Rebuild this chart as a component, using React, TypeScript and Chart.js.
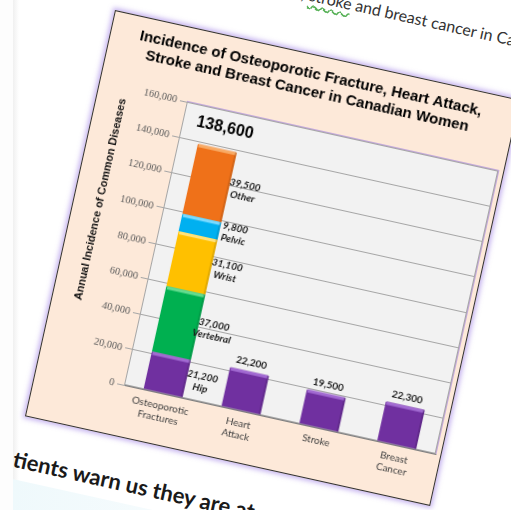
import React, { useEffect, useRef } from 'react';
import { Chart, registerables } from 'chart.js';

Chart.register(...registerables);

// ---------- data ----------
const categories: (string | string[])[] = [['Osteoporotic', 'Fractures'], ['Heart', 'Attack'], ['Stroke'], ['Breast', 'Cancer']];
const fractureTypes = ['Hip', 'Vertebral', 'Wrist', 'Pelvic', 'Other'];
const fractureValues = [21200, 37000, 31100, 9800, 39500];
const diseaseValues: (number | null)[] = [null, 22200, 19500, 22300];
const yTickValues = [0, 20000, 40000, 60000, 80000, 100000, 120000, 140000, 160000];
const titleLines = ['Incidence of Osteoporotic Fracture, Heart Attack,', 'Stroke and Breast Cancer in Canadian Women'];
const yTitle = 'Annual Incidence of Common Diseases';

// ---------- styles ----------
const fractureColors = ['#7030a0', '#00b050', '#ffc000', '#00b0f0', '#ef7119'];
const fractureHighlights = ['#a26ad2', '#63dc8e', '#ffe27a', '#7adaff', '#f8ab66'];
const diseaseColor = '#7030a0';
const diseaseHighlight = '#a26ad2';

const fmt = (v: number) => v.toLocaleString('en-US');

const decorPlugin = {
  id: 'decor',
  beforeDraw(chart: any) {
    const { ctx, chartArea: a } = chart;
    ctx.save();
    ctx.fillStyle = '#f2f2f2';
    ctx.fillRect(a.left, a.top, a.right - a.left, a.bottom - a.top);
    ctx.restore();
  },
  beforeDatasetsDraw(chart: any) {
    const { ctx, chartArea: a } = chart;
    ctx.save();
    ctx.strokeStyle = '#a6a6a6';
    ctx.lineWidth = 1;
    ctx.strokeRect(a.left + 0.5, a.top + 0.5, a.right - a.left - 1, a.bottom - a.top - 1);
    ctx.strokeStyle = 'rgba(170,140,220,0.7)';
    ctx.beginPath();
    ctx.moveTo(a.left, a.top - 0.5);
    ctx.lineTo(a.right + 0.5, a.top - 0.5);
    ctx.lineTo(a.right + 0.5, a.bottom);
    ctx.stroke();
    ctx.restore();
  },
  afterDatasetsDraw(chart: any) {
    const { ctx } = chart;
    ctx.save();
    // bevel highlight on top of each bar segment
    chart.data.datasets.forEach((ds: any, di: number) => {
      const meta = chart.getDatasetMeta(di);
      meta.data.forEach((el: any, j: number) => {
        const v = ds.data[j];
        if (v == null) return;
        const p = el.getProps(['x', 'y', 'width', 'base'], true);
        ctx.fillStyle = di < fractureTypes.length ? fractureHighlights[di] : diseaseHighlight;
        ctx.fillRect(p.x - p.width / 2 + 1, p.y, p.width - 2, 3);
        ctx.fillStyle = 'rgba(0,0,0,0.12)';
        ctx.fillRect(p.x + p.width / 2 - 2, p.y, 2, p.base - p.y);
      });
    });
    ctx.textAlign = 'center';
    ctx.textBaseline = 'middle';
    ctx.fillStyle = '#1a1a1a';
    // fracture segment labels
    fractureTypes.forEach((name, i) => {
      const el = chart.getDatasetMeta(i).data[0];
      const p = el.getProps(['x', 'y', 'width', 'base'], true);
      const cx = p.x + p.width / 2 + 15;
      const cy = (p.y + p.base) / 2;
      ctx.font = 'italic bold 10px Lato';
      ctx.fillText(fmt(fractureValues[i]), cx, cy - 6);
      ctx.fillText(name, cx, cy + 6);
    });
    // other disease labels
    const dMeta = chart.getDatasetMeta(fractureTypes.length);
    dMeta.data.forEach((el: any, j: number) => {
      const v = diseaseValues[j];
      if (v == null) return;
      const p = el.getProps(['x', 'y'], true);
      ctx.font = 'bold 10px Lato';
      ctx.fillText(fmt(v), p.x, p.y - 9);
    });
    // total of fractures
    const topEl = chart.getDatasetMeta(fractureTypes.length - 1).data[0];
    const tp = topEl.getProps(['x', 'y'], true);
    const total = fractureValues.reduce((s, v) => s + v, 0);
    ctx.fillStyle = '#000';
    ctx.font = 'bold 16px "Liberation Sans"';
    ctx.fillText(fmt(total), tp.x + 3, tp.y - 21);
    // y axis title
    ctx.save();
    ctx.translate(26, 187);
    ctx.rotate(-Math.PI / 2);
    ctx.font = 'bold 11px "Liberation Sans"';
    ctx.fillStyle = '#111';
    ctx.fillText(yTitle, 0, 0);
    ctx.restore();
    ctx.restore();
  },
};

function ChartCanvas() {
  const ref = useRef<HTMLCanvasElement | null>(null);
  useEffect(() => {
    if (!ref.current) return;
    const datasets: any[] = fractureTypes.map((t, i) => ({
      label: t,
      data: categories.map((_, j) => (j === 0 ? fractureValues[i] : null)),
      backgroundColor: fractureColors[i],
      stack: 's',
    }));
    datasets.push({ label: 'Disease', data: diseaseValues, backgroundColor: diseaseColor, stack: 's' });
    const chart = new Chart(ref.current, {
      type: 'bar',
      data: { labels: categories as any, datasets },
      options: {
        animation: false,
        responsive: false,
        devicePixelRatio: 1,
        datasets: { bar: { barPercentage: 0.5, categoryPercentage: 1, borderRadius: 1 } },
        layout: { padding: { left: 0, right: 5, top: 0, bottom: 0 } },
        plugins: {
          legend: { display: false },
          tooltip: { enabled: false },
          title: {
            display: true,
            text: titleLines,
            color: '#000',
            font: { family: '"Liberation Sans"', size: 15, weight: 'bold', lineHeight: 1.2 },
            padding: { top: 10, bottom: 27 },
          },
        },
        scales: {
          x: {
            stacked: true,
            grid: { display: false, drawTicks: false },
            border: { display: true, color: '#7f7f7f' },
            ticks: { font: { family: 'Lato', size: 10, lineHeight: 1.2 }, color: '#404040', padding: 7, maxRotation: 0, autoSkip: false },
            afterFit: (s: any) => { s.height = 51; },
          },
          y: {
            stacked: true,
            min: yTickValues[0],
            max: yTickValues[yTickValues.length - 1],
            afterBuildTicks: (s: any) => { s.ticks = yTickValues.map((v) => ({ value: v })); },
            ticks: { font: { family: '"Liberation Serif"', size: 10.5 }, color: '#595959', padding: 3, callback: (v: any) => fmt(Number(v)) },
            grid: { color: '#a6a6a6', tickLength: 7 },
            border: { display: true, color: '#a6a6a6' },
            afterFit: (s: any) => { s.width = 89; },
          },
        },
      },
      plugins: [decorPlugin],
    });
    return () => chart.destroy();
  }, []);
  return <canvas ref={ref} width={413} height={414} style={{ position: 'absolute', left: 0, top: 0, width: 413, height: 414 }} />;
}

export default function App() {
  return (
    <div style={{ position: 'fixed', left: 0, top: 0, width: 511, height: 510, overflow: 'hidden', background: '#fff' }}>
      <div style={{ position: 'absolute', left: 13, top: 0, width: 6, height: 510, background: 'linear-gradient(to right, #f0f0f0, rgba(255,255,255,0))' }} />
      <div style={{ position: 'absolute', left: 115, top: 10, width: 415, height: 416, transform: 'rotate(12.5deg)', transformOrigin: '0 0' }}>
        <span style={{ position: 'absolute', right: 181, top: -67, whiteSpace: 'nowrap', font: '16px/20px Lato', color: '#333' }}>
          the risk of osteoporotic fracture, heart attack,&nbsp;
          <span style={{ textDecoration: 'underline wavy #55b055', textUnderlineOffset: '3px' }}>stroke</span>&nbsp;
        </span>
        <span style={{ position: 'absolute', left: 234, top: -67, whiteSpace: 'nowrap', font: '16px/20px Lato', color: '#333' }}>
          and breast cancer in Canadian women.
        </span>
        <div style={{ position: 'absolute', left: -60, top: 480, width: 320, height: 90, background: 'linear-gradient(to right, #ecf8fb, #fafdfe)' }} />
        <span style={{ position: 'absolute', right: 417, top: 446, whiteSpace: 'nowrap', font: 'bold 22px/28px Lato', color: '#1a1a1a' }}>Pa</span>
        <span style={{ position: 'absolute', left: -2, top: 446, whiteSpace: 'nowrap', font: 'bold 22px/28px Lato', color: '#1a1a1a' }}>
          tients warn us they are at
        </span>
        <div style={{ position: 'absolute', left: 0, top: 0, width: 415, height: 416, boxSizing: 'border-box', border: '1px solid #333', background: '#fde9d9', boxShadow: '0 0 5px 2px rgba(150,115,225,0.55)' }}>
          <ChartCanvas />
        </div>
      </div>
      <div style={{ position: 'absolute', left: 0, top: 0, width: 13, height: 510, background: '#fdfdfd' }} />
    </div>
  );
}
